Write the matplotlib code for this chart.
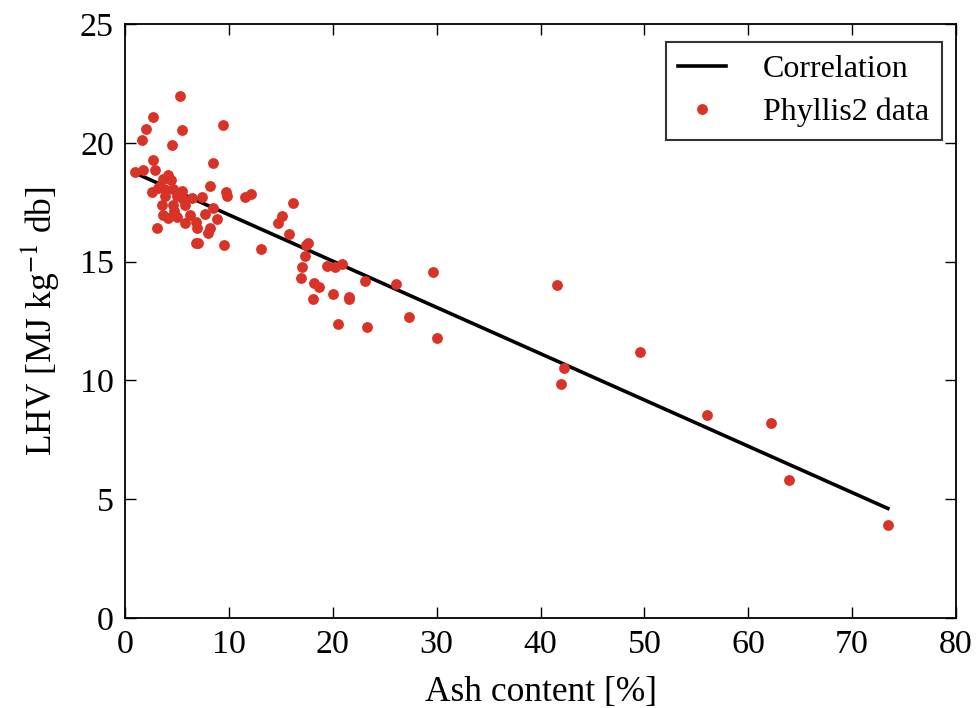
"""
LHV against ash content, Phyllis2 data with linear correlation.
"""
import matplotlib
matplotlib.use("Agg")
import matplotlib.pyplot as plt
import numpy as np

# Phyllis2 data
ash = [
    5.32, 2.72, 2.02, 5.49, 9.43, 1.67, 4.55, 2.72, 8.44, 0.99,
    1.76, 2.89, 4.17, 3.69, 2.57, 8.18, 9.72, 9.79, 11.55, 12.10,
    4.62, 5.46, 3.53, 4.62, 5.77, 7.38, 6.42, 8.44, 7.70, 8.88,
    3.69, 4.17, 4.98, 6.26, 5.77, 6.83, 6.96, 8.18, 8.02, 3.05,
    6.83, 7.05, 9.53, 13.09, 14.75, 3.37, 3.85, 5.00, 5.58, 4.43,
    3.18, 3.95, 4.72, 16.14, 15.14, 15.81, 17.64, 17.45, 17.29, 17.07,
    16.97, 19.47, 20.21, 20.85, 23.13, 26.08, 29.67, 18.22, 18.67, 20.05,
    21.53, 21.60, 18.09, 20.53, 23.32, 27.36, 30.06, 41.58, 41.96, 42.25,
    49.57, 56.01, 62.17, 63.96, 73.44,
]
lhv = [
    21.96, 21.09, 20.58, 20.55, 20.74, 20.11, 19.89, 19.26, 19.15, 18.77,
    18.86, 18.86, 18.64, 18.50, 17.94, 18.18, 17.94, 17.76, 17.71, 17.85,
    18.06, 17.97, 17.38, 17.38, 17.38, 17.71, 17.66, 17.24, 17.00, 16.78,
    16.96, 16.82, 16.89, 16.96, 16.64, 16.68, 16.41, 16.40, 16.22, 16.41,
    15.77, 15.80, 15.71, 15.54, 16.61, 18.18, 17.76, 17.76, 17.64, 18.43,
    18.10, 18.01, 17.13, 17.48, 16.92, 16.16, 15.77, 15.70, 15.24, 14.77,
    14.30, 14.83, 14.77, 14.90, 14.20, 14.06, 14.56, 14.09, 13.92, 13.64,
    13.52, 13.45, 13.41, 12.36, 12.25, 12.66, 11.77, 14.02, 9.85, 10.52,
    11.20, 8.54, 8.21, 5.81, 3.91,
]

# correlation LHV = a + b * ash
corr_a = 18.92
corr_b = -0.1948

plt.rcParams["font.family"] = ["Liberation Serif", "DejaVu Serif"]
plt.rcParams["mathtext.fontset"] = "stix"

fig = plt.figure(figsize=(9.77, 7.08), dpi=100)
ax = fig.add_axes([0.128, 0.127, 0.8505, 0.839])

ash_line = np.array([min(ash), max(ash)])
ax.plot(ash_line, corr_a + corr_b * ash_line, color="black", linewidth=2.6,
        label="Correlation")
ax.plot(ash, lhv, "o", color="#d93327", markersize=7.8, markeredgewidth=0,
        label="Phyllis2 data")

ax.set_xlim(0, 80)
ax.set_ylim(0, 25)
ax.set_xticks(np.arange(0, 81, 10))
ax.set_yticks(np.arange(0, 26, 5))
ax.tick_params(direction="in", length=8, width=1, top=True, right=True,
               labelsize=24.5, pad=8)
for spine in ax.spines.values():
    spine.set_linewidth(1.3)

ax.set_xlabel("Ash content [%]", fontsize=25.5, labelpad=12)
ax.set_ylabel(r"LHV [MJ kg$^{-1}$ db]", fontsize=25.5, labelpad=12)

leg = ax.legend(loc="upper right", bbox_to_anchor=(0.983, 0.970),
                borderaxespad=0, fontsize=23, fancybox=False, numpoints=1,
                handlelength=1.5, borderpad=0.4, labelspacing=0.42,
                handletextpad=1.15)
leg.get_frame().set_edgecolor("black")
leg.get_frame().set_linewidth(1.5)

fig.savefig("out.png", dpi=100)
